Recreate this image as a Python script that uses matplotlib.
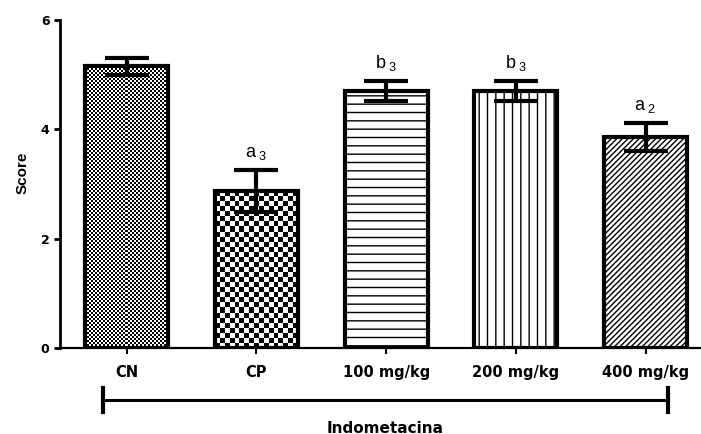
import numpy as np
import matplotlib
matplotlib.use("Agg")
import matplotlib.pyplot as plt
import matplotlib.transforms as mtransforms

plt.rcParams['font.family'] = ['Liberation Sans', 'DejaVu Sans']
plt.rcParams['mathtext.fontset'] = 'custom'
plt.rcParams['mathtext.rm'] = 'Liberation Sans'
plt.rcParams['mathtext.it'] = 'Liberation Sans'
plt.rcParams['hatch.linewidth'] = 1.0

# grupos e escores (média ± EPM)
grupos = ['CN', 'CP', '100 mg/kg', '200 mg/kg', '400 mg/kg']
medias = [5.15, 2.87, 4.70, 4.70, 3.86]
erros = [0.15, 0.39, 0.18, 0.18, 0.25]
letras = ['', 'a$_{\\ 3}$', 'b$_{\\ 3}$', 'b$_{\\ 3}$', 'a$_{\\ 2}$']
yticks = [0, 2, 4, 6]

# padrão de preenchimento de cada barra
hachuras = ['', '', '--', '||', '//////']
xadrez = [2.0, 5.0, None, None, None]   # tamanho da casa em px

largos = ['DejaVu Sans', 'Liberation Sans']   # rótulos em negrito, mais largos

fig = plt.figure(figsize=(7.01, 4.34), dpi=100)
ax = fig.add_axes([60 / 701, 1 - 348 / 434, 640 / 701, 328 / 434])

x = np.arange(len(grupos))
larg = 0.64
ax.set_xlim(-0.515, 4.42)
ax.set_ylim(0, 6)

ax.bar(x, medias, width=larg, color='white', linewidth=0, zorder=1)
for i in range(len(grupos)):
    if hachuras[i]:
        ax.bar(x[i], medias[i], width=larg, color='white', edgecolor='black',
               linewidth=0, hatch=hachuras[i], zorder=1.2)

# barras quadriculadas (CN e CP)
for i, cel in enumerate(xadrez):
    if cel is None:
        continue
    p0 = ax.transData.transform((x[i] - larg / 2, 0))
    p1 = ax.transData.transform((x[i] + larg / 2, medias[i]))
    nc = max(1, int(round((p1[0] - p0[0]) / cel)))
    nr = max(1, int(round((p1[1] - p0[1]) / cel)))
    grade = np.indices((nr, nc)).sum(axis=0) % 2
    ax.imshow(grade, cmap='gray', interpolation='nearest', aspect='auto',
              extent=(x[i] - larg / 2, x[i] + larg / 2, 0, medias[i]),
              zorder=1.5, origin='lower')

ax.set_xlim(-0.515, 4.42)
ax.set_ylim(0, 6)

# contorno das barras
ax.bar(x, medias, width=larg, fill=False, edgecolor='black', linewidth=3,
       zorder=3)

ax.errorbar(x, medias, yerr=erros, fmt='none', ecolor='black',
            elinewidth=3, capsize=15.5, capthick=3, zorder=4)

for i, t in enumerate(letras):
    if t:
        ax.text(x[i], medias[i] + erros[i] + 0.24, t, ha='center',
                va='baseline', fontsize=13)

ax.spines['top'].set_visible(False)
ax.spines['right'].set_visible(False)
ax.spines['left'].set_linewidth(2)
ax.spines['bottom'].set_linewidth(1.6)

ax.set_yticks(yticks)
ax.set_yticklabels([str(v) for v in yticks], fontsize=9, fontweight='bold',
                   family=largos)
ax.tick_params(axis='y', length=4.5, width=2, pad=3)
ax.set_xticks(x)
ax.set_xticklabels(grupos, fontsize=10.5, fontweight='bold', family=largos)
ax.tick_params(axis='x', length=4, width=1.5, pad=8)

ax.set_ylabel('Score', fontsize=11, fontweight='bold')
ax.yaxis.set_label_coords(-0.047, 0.534)

# chave "Indometacina" abaixo do eixo x
trans = mtransforms.blended_transform_factory(ax.transData, ax.transAxes)
xa, xb = -0.185, 4.17
ax.plot([xa, xb], [-0.1585, -0.1585], color='black', lw=2.2,
        transform=trans, clip_on=False)
for xe in (xa, xb):
    ax.plot([xe, xe], [-0.122, -0.195], color='black', lw=3,
            transform=trans, clip_on=False)
ax.text((xa + xb) / 2, -0.244, 'Indometacina', transform=trans,
        ha='center', va='center', fontsize=11, fontweight='bold',
        family=largos)

fig.savefig('out.png', dpi=100)
